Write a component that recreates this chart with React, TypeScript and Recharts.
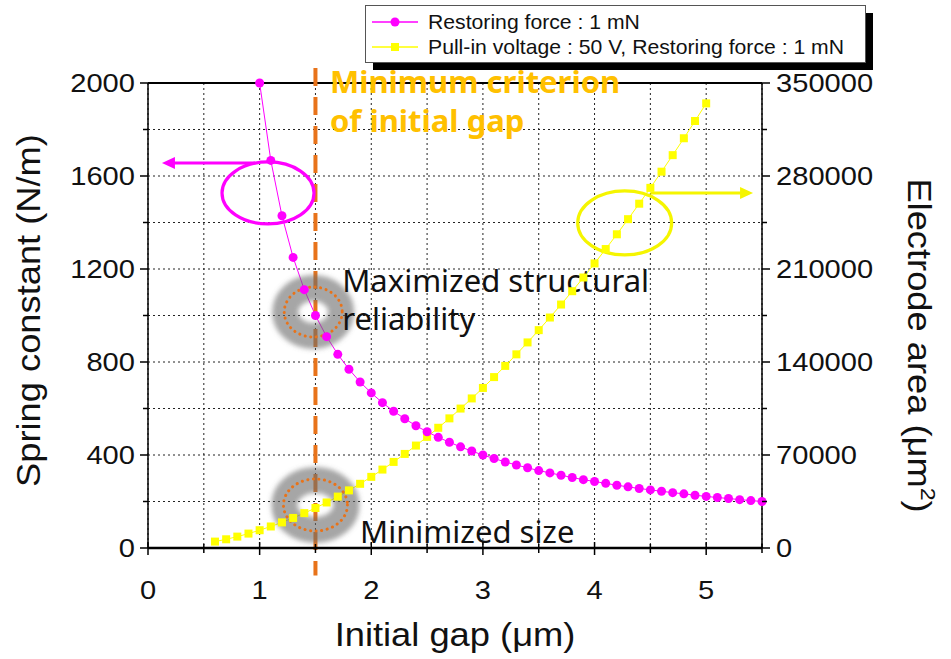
import {
  ComposedChart, Line, XAxis, YAxis, CartesianGrid, Legend,
  ReferenceLine, ReferenceDot,
} from 'recharts'

// spring constant needed for a 1 mN restoring force, vs. initial gap (um)
const GAP_K = [
  1.0, 1.1, 1.2, 1.3, 1.4, 1.5, 1.6, 1.7, 1.8, 1.9, 2.0, 2.1, 2.2, 2.3, 2.4, 2.5,
  2.6, 2.7, 2.8, 2.9, 3.0, 3.1, 3.2, 3.3, 3.4, 3.5, 3.6, 3.7, 3.8, 3.9, 4.0, 4.1,
  4.2, 4.3, 4.4, 4.5, 4.6, 4.7, 4.8, 4.9, 5.0, 5.1, 5.2, 5.3, 5.4, 5.5,
]
const SPRING_K = [
  2000, 1667, 1429, 1250, 1111, 1000, 909, 833, 769, 714, 667, 625, 588, 556, 526, 500,
  476, 455, 435, 417, 400, 385, 370, 357, 345, 333, 323, 313, 303, 294, 286, 278,
  270, 263, 256, 250, 244, 238, 233, 227, 222, 217, 213, 208, 204, 200,
]

// electrode area for 50 V pull-in with the same restoring force
const GAP_AREA = [
  0.6, 0.7, 0.8, 0.9, 1.0, 1.1, 1.2, 1.3, 1.4, 1.5, 1.6, 1.7, 1.8, 1.9, 2.0, 2.1,
  2.2, 2.3, 2.4, 2.5, 2.6, 2.7, 2.8, 2.9, 3.0, 3.1, 3.2, 3.3, 3.4, 3.5, 3.6, 3.7,
  3.8, 3.9, 4.0, 4.1, 4.2, 4.3, 4.4, 4.5, 4.6, 4.7, 4.8, 4.9, 5.0,
]
const ELECTRODE_AREA = [
  4820, 6560, 8570, 10840, 13390, 16200, 19280, 22620, 26240, 30120, 34270, 38690,
  43370, 48320, 53540, 59030, 64790, 70810, 77100, 83660, 90490, 97580, 104950,
  112580, 120470, 128640, 137070, 145770, 154740, 163980, 173480, 183250, 193290,
  203600, 214180, 225020, 236130, 247510, 259150, 271070, 283250, 295700, 308410,
  321400, 334650,
]

const X_TICKS = [0, 0.5, 1, 1.5, 2, 2.5, 3, 3.5, 4, 4.5, 5, 5.5]
const K_TICKS = [0, 200, 400, 600, 800, 1000, 1200, 1400, 1600, 1800, 2000]
const AREA_TICKS = [0, 35000, 70000, 105000, 140000, 175000, 210000, 245000, 280000, 315000, 350000]

const MIN_GAP = 1.5

const MAGENTA = '#ff00ff'
const YELLOW = '#ffff00'
const ORANGE = '#e8731a'
const GOLD = '#ffc000'
const AXIS_FONT = '"Liberation Sans", Arial, sans-serif'
const NOTE_FONT = '"Noto Sans", "Open Sans", sans-serif'
const STRETCH = 'scale(1.12,1)'

const kData = GAP_K.map((gap, i) => ({ gap, k: SPRING_K[i] }))
const areaData = GAP_AREA.map((gap, i) => ({ gap, area: ELECTRODE_AREA[i] }))

function XTick({ x, y, payload }: any) {
  const major = Number.isInteger(payload.value)
  return (
    <g>
      <line x1={x} x2={x} y1={y - (major ? 6 : 4)} y2={y + (major ? 7 : 5)} stroke="#000" strokeWidth={1.5} />
      {major && (
        <text transform={`translate(${x},${y + 51}) ${STRETCH}`} textAnchor="middle"
          fontSize={26} fontFamily={AXIS_FONT} fill="#111">{payload.value}</text>
      )}
    </g>
  )
}

function LeftTick({ x, y, payload }: any) {
  const major = payload.value % 400 === 0
  return (
    <g>
      <line x1={x - (major ? 8 : 5)} x2={x} y1={y} y2={y} stroke="#000" strokeWidth={1.5} />
      {major && (
        <text transform={`translate(${x - 13},${y + 9}) ${STRETCH}`} textAnchor="end"
          fontSize={26} fontFamily={AXIS_FONT} fill="#111">{payload.value}</text>
      )}
    </g>
  )
}

function RightTick({ x, y, payload }: any) {
  const major = payload.value % 70000 === 0
  return (
    <g>
      <line x1={x} x2={x + (major ? 8 : 5)} y1={y} y2={y} stroke="#000" strokeWidth={1.5} />
      {major && (
        <text transform={`translate(${x + 14},${y + 9}) ${STRETCH}`} textAnchor="start"
          fontSize={26} fontFamily={AXIS_FONT} fill="#111">{payload.value}</text>
      )}
    </g>
  )
}

function XTitle({ viewBox }: any) {
  const cx = viewBox.x + viewBox.width / 2
  return (
    <text transform={`translate(${cx},${viewBox.y + 98}) scale(1.1,1)`} textAnchor="middle"
      fontSize={33} fontFamily={AXIS_FONT} fill="#111">Initial gap (μm)</text>
  )
}

function LeftTitle({ viewBox }: any) {
  const cy = viewBox.y + viewBox.height / 2 - 5
  return (
    <text transform={`translate(40,${cy}) rotate(-90) scale(1.1,1)`} textAnchor="middle"
      fontSize={33} fontFamily={AXIS_FONT} fill="#111">Spring constant (N/m)</text>
  )
}

function RightTitle({ viewBox }: any) {
  const cy = viewBox.y + viewBox.height / 2 + 30
  return (
    <text transform={`translate(908,${cy}) rotate(90) scale(1.1,1)`} textAnchor="middle"
      fontSize={33} fontFamily={AXIS_FONT} fill="#111">
      Electrode area (μm<tspan dy={-13} fontSize={21}>2</tspan><tspan dy={13}>)</tspan>
    </text>
  )
}

function SquareDot(p: any) {
  if (p.cx == null || p.cy == null) return <g key={p.index} />
  return <rect key={p.index} x={p.cx - 4} y={p.cy - 4} width={8} height={8} fill={YELLOW} />
}

// soft grey glow with a dotted orange ring, marks the chosen gap
const halo = (id: string, rx: number, ry: number) => (p: any) => (
  <g>
    <defs>
      <filter id={id} x="-50%" y="-50%" width="200%" height="200%">
        <feGaussianBlur stdDeviation={2.5} />
      </filter>
    </defs>
    <ellipse cx={p.cx} cy={p.cy} rx={rx - 1} ry={ry - 1} fill="none" stroke="#6a6a6a"
      strokeOpacity={0.6} strokeWidth={26} filter={`url(#${id})`} />
    <ellipse cx={p.cx} cy={p.cy} rx={rx} ry={ry} fill="none" stroke={ORANGE}
      strokeWidth={3} strokeDasharray="0.1 5.5" strokeLinecap="round" />
  </g>
)

const ring = (color: string, rx: number, ry: number) => (p: any) => (
  <ellipse cx={p.cx} cy={p.cy} rx={rx} ry={ry} fill="none" stroke={color} strokeWidth={3.2} />
)

const arrow = (color: string) => (p: any) => {
  const dir = Math.sign(p.x2 - p.x1)
  return (
    <g>
      <line x1={p.x1} y1={p.y1} x2={p.x2 - dir * 8} y2={p.y2} stroke={color} strokeWidth={3} />
      <polygon points={`${p.x2},${p.y2} ${p.x2 - dir * 13},${p.y2 - 6} ${p.x2 - dir * 13},${p.y2 + 6}`} fill={color} />
    </g>
  )
}

const note = (lines: string[], color: string, size: number, bold: boolean, gap: number) => (p: any) => (
  <text x={p.cx} y={p.cy} fill={color} fontSize={size} fontWeight={bold ? 700 : 400} fontFamily={NOTE_FONT}>
    {lines.map((l, i) => (
      <tspan key={l} x={p.cx} dy={i === 0 ? 0 : gap}>{l}</tspan>
    ))}
  </text>
)

function LegendBox() {
  return (
    <svg width={512} height={68} style={{ display: 'block' }}>
      <rect x={8} y={8} width={500} height={57} fill="#000" />
      <rect x={0.5} y={0.5} width={500} height={57} fill="#fff" stroke="#555" />
      <line x1={7} x2={53} y1={17} y2={17} stroke={MAGENTA} strokeWidth={1.5} />
      <circle cx={30} cy={17} r={4.5} fill={MAGENTA} />
      <text transform="translate(63,24) scale(1.06,1)" fontSize={20} fontFamily={AXIS_FONT} fill="#111">
        Restoring force : 1 mN
      </text>
      <line x1={7} x2={53} y1={42} y2={42} stroke={YELLOW} strokeWidth={1.5} />
      <rect x={26} y={38} width={8} height={8} fill={YELLOW} />
      <text transform="translate(63,49) scale(1.06,1)" fontSize={20} fontFamily={AXIS_FONT} fill="#111">
        Pull-in voltage : 50 V, Restoring force : 1 mN
      </text>
    </svg>
  )
}

export default function App() {
  return (
    <div style={{ position: 'absolute', left: 0, top: 0, width: 951, height: 659, background: '#fff' }}>
      <ComposedChart width={951} height={659} margin={{ top: 83, right: 0, bottom: 0, left: 0 }}>
        <CartesianGrid yAxisId="k" stroke="#222" strokeDasharray="2 3" />
        <XAxis dataKey="gap" type="number" domain={[0, 5.5]} ticks={X_TICKS} interval={0}
          height={111} tickSize={0} tickMargin={0} tickLine={false} tick={<XTick />}
          axisLine={{ stroke: '#000', strokeWidth: 2.5 }} label={XTitle} />
        <YAxis yAxisId="k" domain={[0, 2000]} ticks={K_TICKS} interval={0} width={148}
          tickSize={0} tickMargin={0} tickLine={false} tick={<LeftTick />}
          axisLine={{ stroke: '#000', strokeWidth: 1.5 }} label={LeftTitle} />
        <YAxis yAxisId="a" orientation="right" domain={[0, 350000]} ticks={AREA_TICKS} interval={0}
          width={189} tickSize={0} tickMargin={0} tickLine={false} tick={<RightTick />}
          axisLine={{ stroke: '#000', strokeWidth: 1.5 }} label={RightTitle} />
        <ReferenceLine yAxisId="k" y={2000} stroke="#000" strokeWidth={2} />

        <Line yAxisId="a" data={areaData} dataKey="area" stroke={YELLOW} strokeWidth={1}
          dot={SquareDot} activeDot={false} isAnimationActive={false} />
        <Line yAxisId="k" data={kData} dataKey="k" stroke={MAGENTA} strokeWidth={1}
          dot={{ r: 4.5, fill: MAGENTA, stroke: 'none' }} activeDot={false} isAnimationActive={false} />

        <ReferenceLine yAxisId="k" ifOverflow="visible" stroke={ORANGE} strokeWidth={4}
          strokeDasharray="18 11"
          segment={[{ x: MIN_GAP, y: 2065 }, { x: MIN_GAP, y: -118 }]} />

        <ReferenceDot yAxisId="k" x={1.48} y={1015} ifOverflow="visible" shape={halo('halo-top', 29, 25)} />
        <ReferenceDot yAxisId="k" x={1.5} y={185} ifOverflow="visible" shape={halo('halo-bottom', 32, 26)} />

        <ReferenceDot yAxisId="k" x={1.075} y={1527} ifOverflow="visible" shape={ring(MAGENTA, 46, 31)} />
        <ReferenceLine yAxisId="k" ifOverflow="visible" shape={arrow(MAGENTA)}
          segment={[{ x: 0.96, y: 1656 }, { x: 0.125, y: 1656 }]} />
        <ReferenceDot yAxisId="k" x={4.27} y={1398} ifOverflow="visible" shape={ring('#f5f500', 47, 32)} />
        <ReferenceLine yAxisId="k" ifOverflow="visible" shape={arrow('#f5f500')}
          segment={[{ x: 4.5, y: 1527 }, { x: 5.42, y: 1527 }]} />

        <ReferenceDot yAxisId="k" x={1.63} y={1957} ifOverflow="visible"
          shape={note(['Minimum criterion', 'of initial gap'], GOLD, 31, true, 39)} />
        <ReferenceDot yAxisId="k" x={1.74} y={1101} ifOverflow="visible"
          shape={note(['Maximized structural', 'reliability'], '#111', 31, false, 38)} />
        <ReferenceDot yAxisId="k" x={1.9} y={22} ifOverflow="visible"
          shape={note(['Minimized size'], '#111', 31, false, 0)} />

        <Legend layout="horizontal" verticalAlign="middle" align="center" content={<LegendBox />}
          wrapperStyle={{ left: 365, top: 5, width: 512, height: 68 }} />
      </ComposedChart>
    </div>
  )
}
